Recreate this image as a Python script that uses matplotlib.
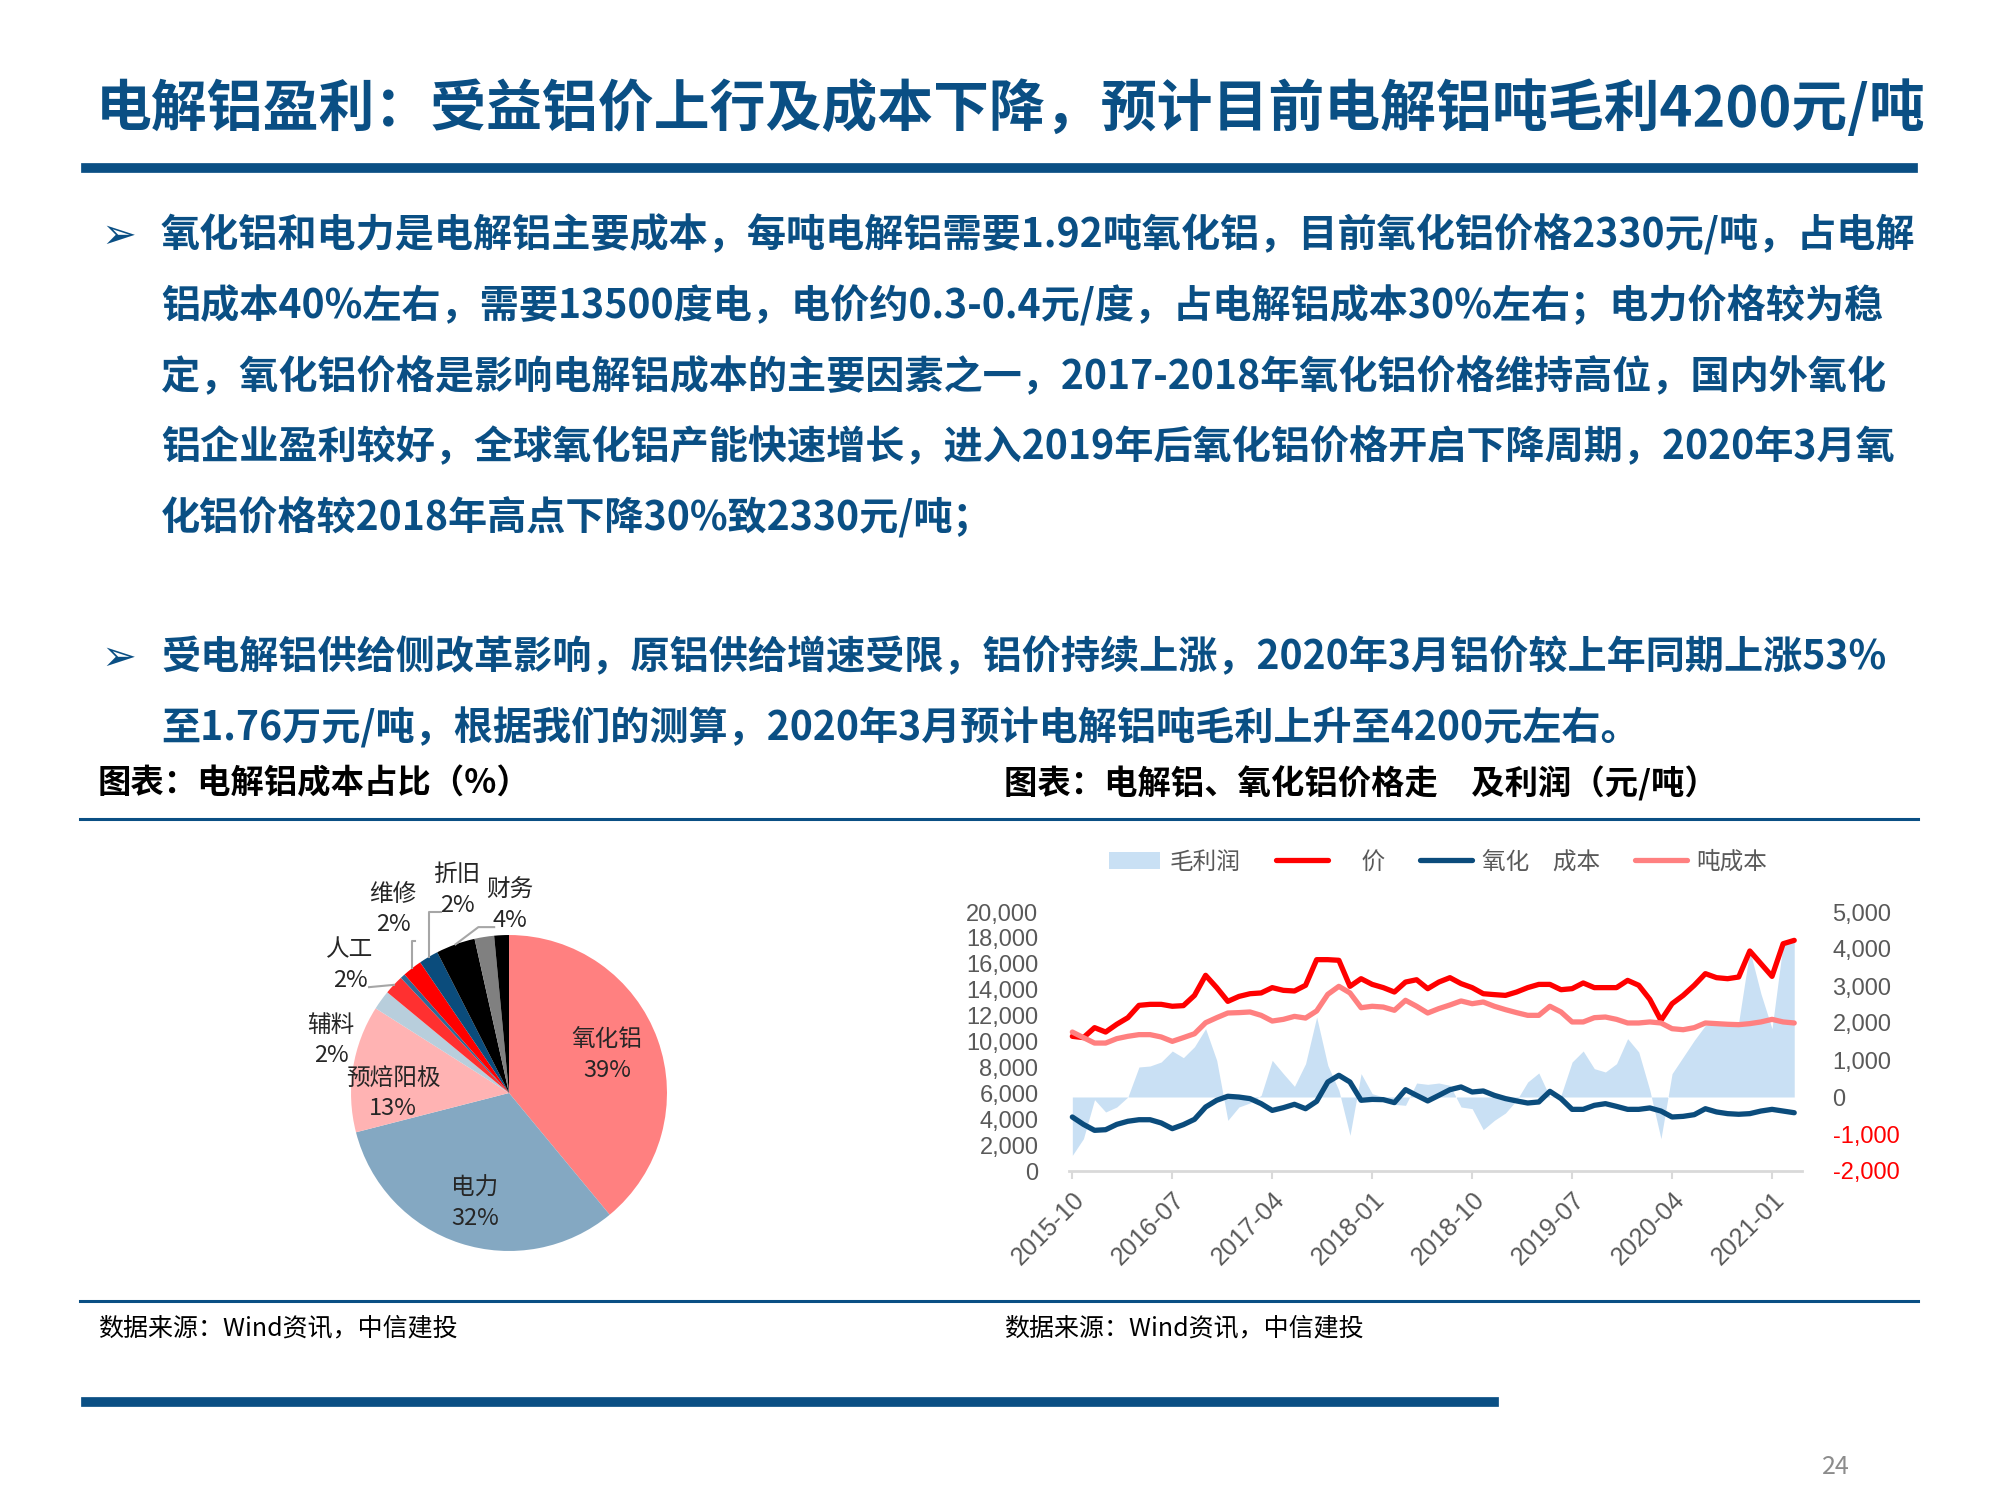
import numpy as np
import pandas as pd
import matplotlib
matplotlib.use('Agg')
import matplotlib.pyplot as plt
from matplotlib.lines import Line2D
from matplotlib.patches import Patch
from matplotlib.ticker import FuncFormatter

plt.rcParams['font.family'] = ['Noto Sans CJK SC', 'DejaVu Sans']

# ---- datos del grafico de lineas (元/吨), mensual 2015-10 .. 2021-03 ----
meses = pd.period_range('2015-10', '2021-03', freq='M')
precio_al = [10400, 10300, 11070, 10730, 11330, 11840, 12790, 12870, 12870, 12720,
             12770, 13560, 15110, 14160, 13100, 13480, 13690, 13750, 14160, 13950,
             13900, 14340, 16320, 16320, 16270, 14260, 14850, 14410, 14160, 13820,
             14590, 14770, 14080, 14590, 14930, 14470, 14160, 13690, 13620, 13560,
             13820, 14160, 14410, 14410, 14000, 14080, 14520, 14160, 14160, 14160,
             14720, 14340, 13250, 11630, 12920, 13560, 14340, 15240, 14930, 14850,
             14980, 16990, 16010, 15030, 17550, 17810]
costo_alumina = [4170, 3600, 3140, 3190, 3600, 3840, 3960, 3960, 3710, 3270,
                 3580, 3990, 4940, 5460, 5770, 5710, 5590, 5200, 4680, 4890,
                 5150, 4810, 5380, 6870, 7390, 6870, 5460, 5530, 5510, 5280,
                 6280, 5840, 5410, 5840, 6280, 6490, 6100, 6180, 5840, 5590,
                 5410, 5250, 5330, 6150, 5590, 4760, 4760, 5070, 5200, 4990,
                 4760, 4760, 4870, 4630, 4170, 4220, 4350, 4810, 4560, 4430,
                 4380, 4430, 4630, 4760, 4630, 4500]
costo_ton = [10730, 10300, 9880, 9880, 10220, 10400, 10530, 10530, 10350, 10010,
             10300, 10600, 11450, 11840, 12200, 12230, 12280, 12020, 11580, 11710,
             11940, 11810, 12360, 13640, 14260, 13750, 12610, 12720, 12660, 12410,
             13180, 12720, 12200, 12540, 12820, 13130, 12920, 13050, 12720, 12460,
             12230, 12020, 12020, 12720, 12280, 11510, 11510, 11840, 11890, 11710,
             11430, 11430, 11510, 11430, 10990, 10910, 11070, 11430, 11380, 11330,
             11300, 11380, 11510, 11710, 11510, 11430]
margen = [-1577, -1126, -72, -405, -270, 0, 811, 838, 946, 1243,
          1063, 1360, 1847, 990, -631, -270, -160, 45, 991, 631,
          288, 901, 2162, 856, 180, -1036, 631, 90, 0, -198,
          -225, 378, 342, 378, 315, -270, -315, -883, -631, -432,
          -90, 405, 649, 0, 45, 946, 1243, 766, 676, 901,
          1577, 1216, 180, -1126, 631, 1081, 1532, 1937, 1982, 2000,
          2027, 3964, 2793, 1847, 4145, 4190]
series_legenda = ['毛利润', '\u3000价', '氧化\u3000成本', '吨成本']

# ---- datos del pastel (%) ----
partes = ['氧化铝', '电力', '预焙阳极', '辅料', '人工', '', '维修', '折旧', '财务', '', '']
valores = [39, 32, 13, 2, 2, 0.5, 2, 2, 4, 2, 1.5]
etiquetas_pct = ['39%', '32%', '13%', '2%', '2%', '', '2%', '2%', '4%', '', '']
colores_pastel = ['#FF8080', '#84A8C2', '#FFB3B3', '#B8CEDC', '#FF3030', '#2F6A97',
                  '#FF0000', '#0B4C7C', '#000000', '#808080', '#000000']

azul = '#0A4F84'
gris = '#595959'

fig = plt.figure(figsize=(20, 15), dpi=100)


def fx(px):
    return px / 2000


def fy(py):
    return 1 - py / 1500


# titulo y barra
fig.text(fx(96), fy(109), '电解铝盈利：受益铝价上行及成本下降，预计目前电解铝吨毛利4200元/吨',
         fontsize=40.2, fontweight='bold', color=azul, va='center', ha='left')
fig.add_artist(Line2D([fx(86), fx(1913)], [fy(168), fy(168)], lw=7, color=azul))

# texto del cuerpo
parrafo1 = ['氧化铝和电力是电解铝主要成本，每吨电解铝需要1.92吨氧化铝，目前氧化铝价格2330元/吨，占电解',
            '铝成本40%左右，需要13500度电，电价约0.3-0.4元/度，占电解铝成本30%左右；电力价格较为稳',
            '定，氧化铝价格是影响电解铝成本的主要因素之一，2017-2018年氧化铝价格维持高位，国内外氧化',
            '铝企业盈利较好，全球氧化铝产能快速增长，进入2019年后氧化铝价格开启下降周期，2020年3月氧',
            '化铝价格较2018年高点下降30%致2330元/吨；']
parrafo2 = ['受电解铝供给侧改革影响，原铝供给增速受限，铝价持续上涨，2020年3月铝价较上年同期上涨53%',
            '至1.76万元/吨，根据我们的测算，2020年3月预计电解铝吨毛利上升至4200元左右。']

for y0, lineas in [(236, parrafo1), (658, parrafo2)]:
    fig.text(fx(101), fy(y0), '➢', fontsize=30, color=azul, va='center', ha='left',
             family=['DejaVu Sans'])
    for k, linea in enumerate(lineas):
        fig.text(fx(161), fy(y0 + 70.6 * k), linea, fontsize=28.2, fontweight='bold',
                 color=azul, va='center', ha='left')

# titulos de los graficos y lineas
fig.text(fx(98), fy(784), '图表：电解铝成本占比（%）', fontsize=24, fontweight='bold',
         color='black', va='center')
fig.text(fx(1004), fy(784), '图表：电解铝、氧化铝价格走\u3000及利润（元/吨）', fontsize=24,
         fontweight='bold', color='black', va='center')
fig.add_artist(Line2D([fx(80), fx(1918)], [fy(819), fy(819)], lw=2.2, color=azul))
fig.add_artist(Line2D([fx(80), fx(1918)], [fy(1301), fy(1301)], lw=2.2, color=azul))
fig.text(fx(98), fy(1328), '数据来源：Wind资讯，中信建投', fontsize=18, style='italic',
         color='black', va='center')
fig.text(fx(1004), fy(1328), '数据来源：Wind资讯，中信建投', fontsize=18, style='italic',
         color='black', va='center')
fig.add_artist(Line2D([fx(86), fx(1494)], [fy(1402), fy(1402)], lw=7, color=azul))
fig.text(fx(1836), fy(1467), '24', fontsize=18, color='#8C8C8C', va='center', ha='center')

# ---- pastel ----
axp = fig.add_axes([fx(509 - 200), fy(1093 + 200), 0.2, 400 / 1500])
cunas, _ = axp.pie(valores, colors=colores_pastel, startangle=90, counterclock=False,
                   wedgeprops=dict(linewidth=0))
axp.set_xlim(-1.266, 1.266)
axp.set_ylim(-1.266, 1.266)
axp.set_aspect('equal')
axp.axis('off')

# etiquetas dentro
dentro = {0: (0.62, 0.24), 1: (-0.215, -0.70), 2: (-0.734, 0.0)}
for i, (xx, yy) in dentro.items():
    axp.text(xx, yy, partes[i] + '\n' + etiquetas_pct[i], ha='center', va='center',
             fontsize=17, color='#262626', linespacing=1.4)

# etiquetas fuera con guias
fuera = {3: (-1.127, 0.33), 4: (-1.006, 0.81), 6: (-0.734, 1.16), 7: (-0.329, 1.285),
         8: (0.006, 1.19)}
for i, (xx, yy) in fuera.items():
    axp.text(xx, yy, partes[i] + '\n' + etiquetas_pct[i], ha='center', va='center',
             fontsize=17, color='#262626', linespacing=1.4)
    w = cunas[i]
    ang = np.deg2rad((w.theta1 + w.theta2) / 2)
    ex, ey = np.cos(ang), np.sin(ang)
    if i == 4:
        axp.plot([xx + 0.12, ex], [yy - 0.14, ey], color='#A6A6A6', lw=1.5)
    elif i == 6:
        axp.plot([ex, ex, ex + 0.02], [ey, yy - 0.2, yy - 0.2], color='#A6A6A6', lw=1.5)
    elif i == 7:
        axp.plot([ex, ex, xx - 0.1], [ey, yy - 0.14, yy - 0.14], color='#A6A6A6', lw=1.5)
    elif i == 8:
        axp.plot([ex, xx - 0.2, xx - 0.1], [ey, yy - 0.14, yy - 0.14], color='#A6A6A6', lw=1.5)

# ---- grafico de lineas ----
x = np.arange(len(meses))
ax = fig.add_axes([fx(1069), fy(1171), fx(1802 - 1069), (1171 - 912) / 1500])
ax2 = ax.twinx()

area_color = '#C9E0F4'
ax2.fill_between(x, 0, margen, color=area_color, lw=0)
ax.plot(x, precio_al, color='#FF0000', lw=3.8, solid_capstyle='round', solid_joinstyle='round')
ax.plot(x, costo_alumina, color='#0B4C7C', lw=3.8, solid_capstyle='round', solid_joinstyle='round')
ax.plot(x, costo_ton, color='#FF8080', lw=3.8, solid_capstyle='round', solid_joinstyle='round')
ax.set_zorder(ax2.get_zorder() + 1)
ax.patch.set_visible(False)

ax.set_xlim(-0.3, 65.7)
ax2.set_xlim(-0.3, 65.7)
ax.set_ylim(0, 20000)
ax2.set_ylim(-2000, 5000)
ax.set_yticks(np.arange(0, 20001, 2000))
ax2.set_yticks(np.arange(-2000, 5001, 1000))
fmt = FuncFormatter(lambda v, p: f'{v:,.0f}')
ax.yaxis.set_major_formatter(fmt)
ax2.yaxis.set_major_formatter(fmt)

pos = x[::9]
ax.set_xticks(pos)
ax.set_xticklabels([str(m) for m in meses[::9]], rotation=45, ha='right',
                   rotation_mode='anchor', fontsize=18, color=gris, family='Liberation Sans')
ax.tick_params(axis='x', length=6, width=1.5, color='#D9D9D9', pad=6)
ax.tick_params(axis='y', length=0, labelsize=17, labelcolor=gris, pad=22)
ax2.tick_params(axis='y', length=0, labelsize=17, labelcolor=gris, pad=22)
for t in ax.get_yticklabels() + ax2.get_yticklabels():
    t.set_family('Liberation Sans')
for t, v in zip(ax2.get_yticklabels(), ax2.get_yticks()):
    if v < 0:
        t.set_color('#FF0000')

for s in ['top', 'left', 'right']:
    ax.spines[s].set_visible(False)
for s in ax2.spines.values():
    s.set_visible(False)
ax.spines['bottom'].set_color('#D9D9D9')
ax.spines['bottom'].set_linewidth(2)

handles = [Patch(facecolor=area_color, edgecolor='none'),
           Line2D([], [], color='#FF0000', lw=3.8, solid_capstyle='round'),
           Line2D([], [], color='#0B4C7C', lw=3.8, solid_capstyle='round'),
           Line2D([], [], color='#FF8080', lw=3.8, solid_capstyle='round')]
fig.legend(handles, series_legenda, loc='center', bbox_to_anchor=(fx(1438), fy(862)),
           ncol=4, frameon=False, fontsize=17, labelcolor=gris, handlelength=2.2,
           handleheight=0.7, columnspacing=1.5, handletextpad=0.4)

fig.savefig('out.png', dpi=100)
